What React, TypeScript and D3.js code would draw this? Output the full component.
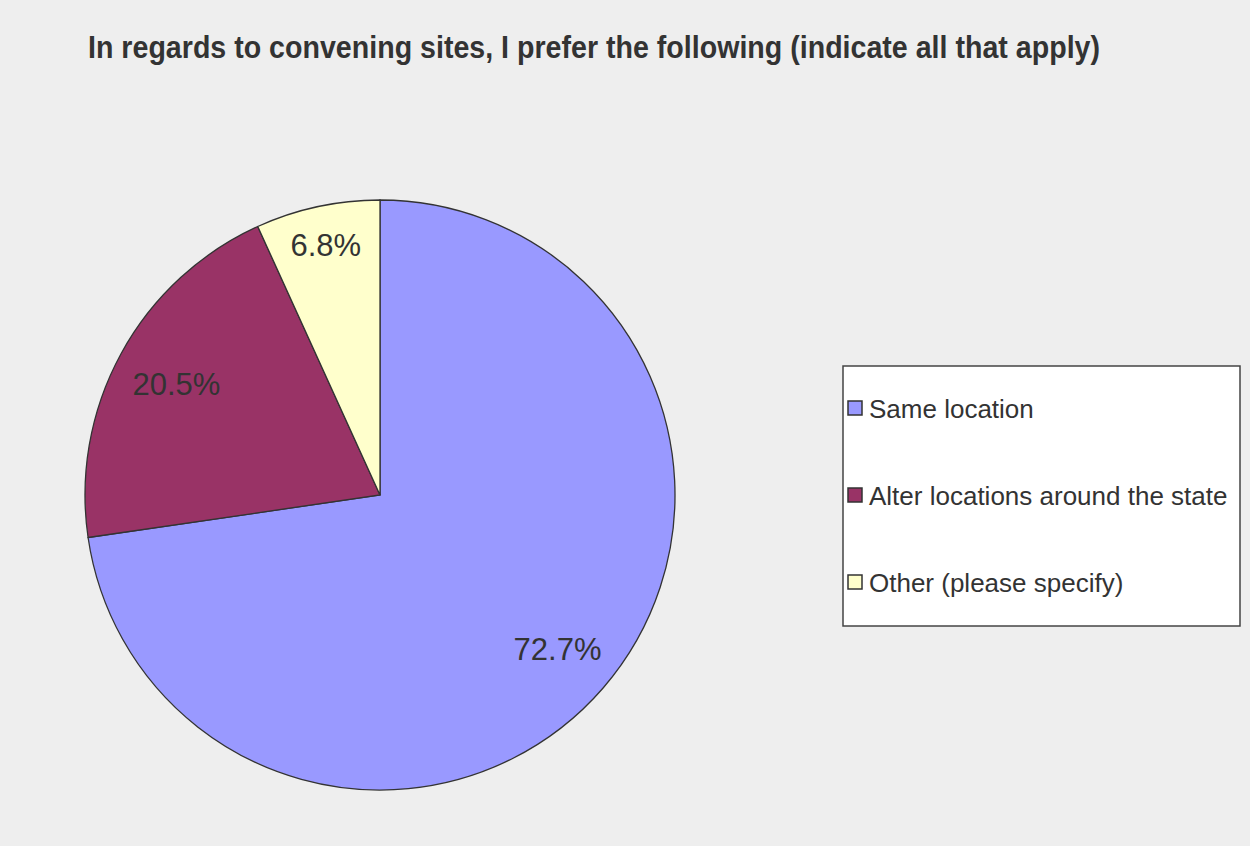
import React, { useEffect } from "react";
import * as d3 from "d3";

const title = "In regards to convening sites, I prefer the following (indicate all that apply)";
const categories = ["Same location", "Alter locations around the state", "Other (please specify)"];
const values = [72.7, 20.5, 6.8];
const labels = ["72.7%", "20.5%", "6.8%"];
const colors = ["#9999ff", "#993366", "#ffffcc"];

const W = 1250;
const H = 846;
const font = "'Liberation Sans', Arial, sans-serif";

function measure(text: string, size: number): number {
  if (typeof document === "undefined") return text.length * size * 0.55;
  const c = document.createElement("canvas").getContext("2d");
  if (!c) return text.length * size * 0.55;
  c.font = `${size}px ${font}`;
  return c.measureText(text).width;
}

export default function App() {
  useEffect(() => {
    document.body.style.margin = "0";
  }, []);

  const cx = 380;
  const cy = 495;
  const r = 295;
  const labelSize = 31;
  const capH = labelSize * 0.716;
  const cornerR = r - 19;

  const pie = d3
    .pie<number>()
    .sort(null)
    .value((d) => d)
    .startAngle(0)
    .endAngle(2 * Math.PI);
  const arcs = pie(values);
  const arcGen = d3.arc<d3.PieArcDatum<number>>().innerRadius(0).outerRadius(r);

  // place label so that its outermost corner sits at a fixed distance inside the rim
  const labelPos = (a: d3.PieArcDatum<number>, text: string) => {
    const mid = (a.startAngle + a.endAngle) / 2;
    const dx = Math.sin(mid);
    const dy = -Math.cos(mid);
    const w = measure(text, labelSize);
    const ex = Math.sign(dx) * (w / 2);
    const ey = Math.sign(dy) * (capH / 2);
    const de = dx * ex + dy * ey;
    const ee = ex * ex + ey * ey;
    const t = -de + Math.sqrt(de * de - ee + cornerR * cornerR);
    return [t * dx, t * dy];
  };

  const legendX = 843;
  const legendY = 366;
  const legendW = 397;
  const legendH = 260;
  const rowY = d3
    .scalePoint<string>()
    .domain(categories)
    .range([legendY + 42, legendY + 216]);

  return (
    <svg width={W} height={H} style={{ display: "block" }} fontFamily={font}>
      <rect x={0} y={0} width={W} height={H} fill="#eeeeee" />
      <text
        x={88}
        y={58}
        fontSize={31}
        fontWeight="bold"
        fill="#333333"
        textLength={1012}
        lengthAdjust="spacingAndGlyphs"
      >
        {title}
      </text>
      <g transform={`translate(${cx},${cy})`}>
        {arcs.map((a, i) => (
          <path key={i} d={arcGen(a) || ""} fill={colors[i]} stroke="#333333" strokeWidth={1.3} />
        ))}
        {arcs.map((a, i) => {
          const [lx, ly] = labelPos(a, labels[i]);
          return (
            <text
              key={"l" + i}
              x={lx}
              y={ly + capH / 2}
              textAnchor="middle"
              fontSize={labelSize}
              fill="#333333"
            >
              {labels[i]}
            </text>
          );
        })}
      </g>
      <rect
        x={legendX}
        y={legendY}
        width={legendW}
        height={legendH}
        fill="#ffffff"
        stroke="#444444"
        strokeWidth={1.5}
      />
      {categories.map((c, i) => {
        const y = rowY(c) as number;
        return (
          <g key={c}>
            <rect x={848} y={y - 7} width={14} height={14} fill={colors[i]} stroke="#333333" strokeWidth={1.5} />
            <text x={869} y={y + 9.5} fontSize={26} fill="#333333">
              {c}
            </text>
          </g>
        );
      })}
    </svg>
  );
}
